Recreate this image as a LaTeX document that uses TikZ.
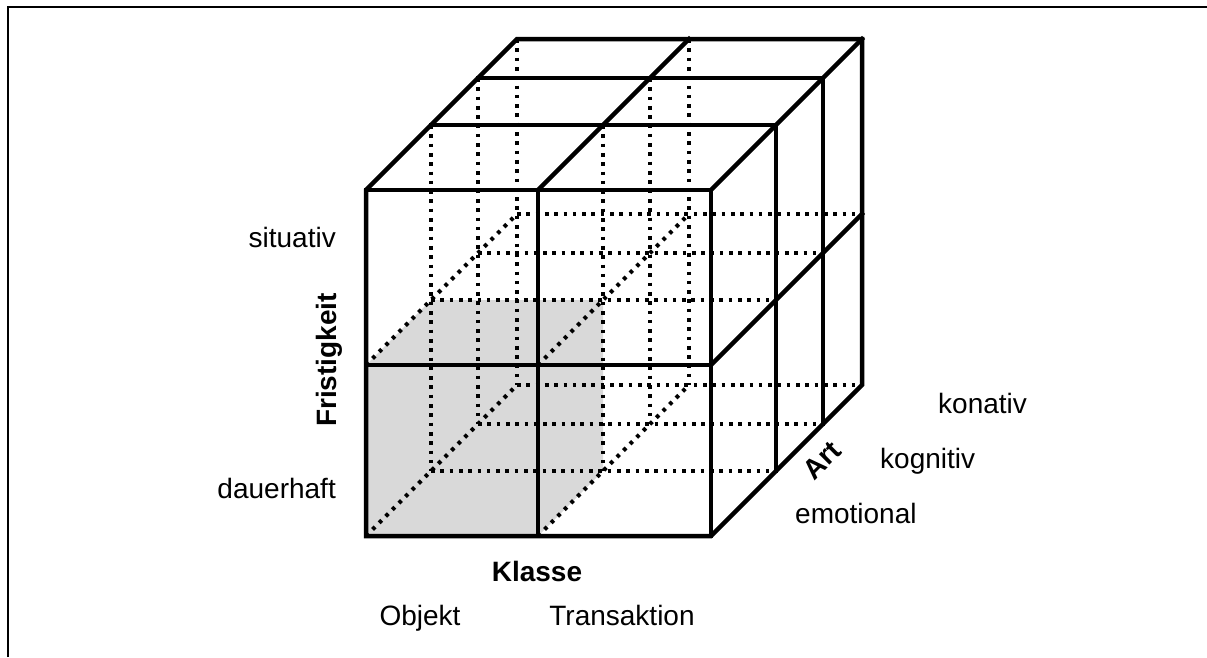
\documentclass[tikz,border=0pt]{standalone}
\usepackage{fontspec}
\setmainfont{Liberation Sans}
\definecolor{cellgray}{RGB}{217,217,217}
\begin{document}
\begin{tikzpicture}[x=1pt,y=-1pt,
  edge/.style={line width=4.5pt, line join=miter, line cap=rect},
  hidden/.style={line width=4pt, dash pattern=on 3.6pt off 5.7pt},
  cellfill/.style={fill=cellgray},
  lbl/.style={font=\fontsize{28}{34}\selectfont, inner sep=0pt},
  axis/.style={font=\fontsize{28}{34}\selectfont\bfseries, inner sep=0pt},
  frameline/.style={line width=2.2pt}]
\useasboundingbox (0,0) rectangle (1207,657);

% corner points of the 2x2x3 grid: column (L,M,R), row (T,H,B), depth layer 0..3
\foreach \xn/\xv in {L/366,M/538,R/711}
  \foreach \yn/\yv in {T/190,H/365,B/536}
    \foreach \k/\d in {0/0,1/65,2/112,3/151}
      \coordinate (\xn\yn\k) at (\xv+\d,\yv-\d);

% frame
\coordinate (fbl) at (8,657);
\coordinate (ftl) at (8,7);
\coordinate (ftr) at (1207,7);
\draw[frameline] (fbl) -- (ftl) -- (ftr);

% shaded cell (dauerhaft / Objekt / emotional)
\fill[cellfill] (LB0) -- (MB0) -- (MB1) -- (MH1) -- (LH1) -- (LH0) -- cycle;

% hidden edges
\foreach \k in {1,2,3} {
  \draw[hidden] (LT\k) -- (LB\k);
  \draw[hidden] (MT\k) -- (MB\k);
  \draw[hidden] (LH\k) -- (RH\k);
  \draw[hidden] (LB\k) -- (RB\k);
}
\foreach \p in {LH,LB,MH,MB}
  \draw[hidden] (\p0) -- (\p3);

% visible edges
\draw[edge] (LB0) -- (LT0) -- (LT3) -- (RT3) -- (RB3) -- (RB0) -- cycle;
\draw[edge] (LT0) -- (RT0) -- (RB0);
\draw[edge] (MT0) -- (MB0);
\draw[edge] (LH0) -- (RH0);
\foreach \k in {1,2} {
  \draw[edge] (LT\k) -- (RT\k) -- (RB\k);
}
\foreach \p in {MT,RT,RH}
  \draw[edge] (\p0) -- (\p3);

% labels
\node[lbl, anchor=base east] (situativ) at (336,247) {situativ};
\node[lbl, anchor=base east] (dauerhaft) at (336,498) {dauerhaft};
\node[axis, rotate=90, anchor=base] (fristigkeit) at (336,360) {Fristigkeit};
\node[axis, anchor=base] (klasse) at (537,581) {Klasse};
\node[lbl, anchor=base] (objekt) at (420,625) {Objekt};
\node[lbl, anchor=base] (transaktion) at (622,625) {Transaktion};
\node[lbl, anchor=base west] (konativ) at (938,413) {konativ};
\node[lbl, anchor=base west] (kognitiv) at (880,468) {kognitiv};
\node[lbl, anchor=base west] (emotional) at (795,523) {emotional};
\node[axis, rotate=45] (art) at (822,460) {Art};
\end{tikzpicture}
\end{document}
